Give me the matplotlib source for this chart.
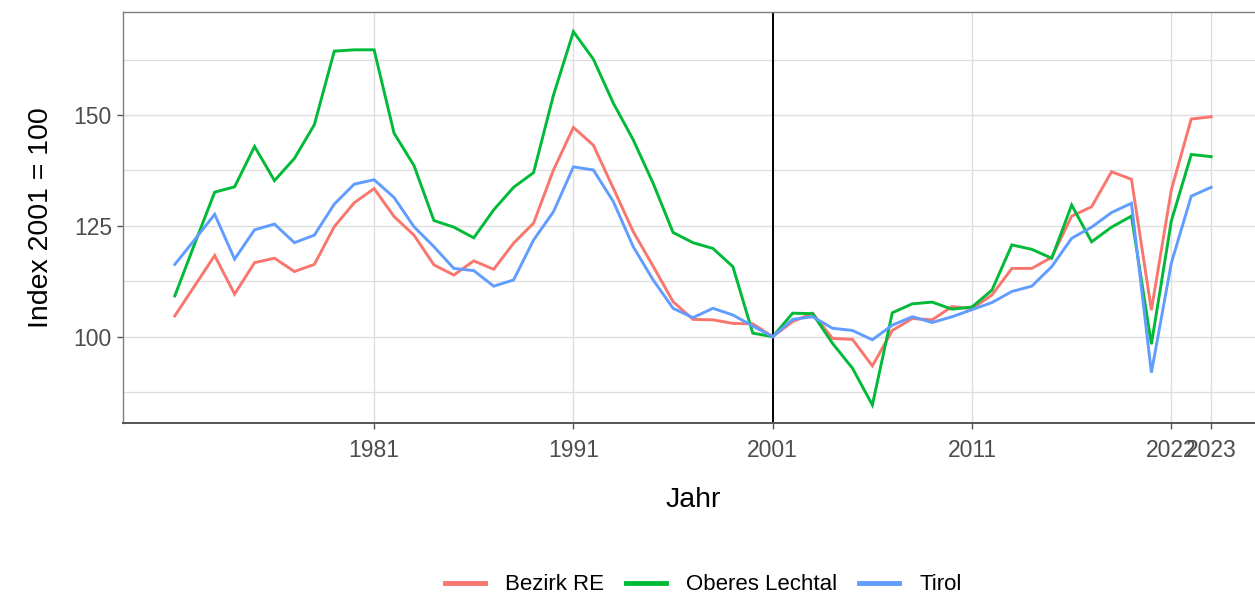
import matplotlib
matplotlib.use("Agg")
import matplotlib.pyplot as plt
from matplotlib.ticker import FixedLocator

years = list(range(1971, 2024))

bezirk_re = [104.7, 111.5, 118.3, 109.6, 116.7, 117.7, 114.7, 116.3, 124.8, 130.2,
             133.4, 127.1, 122.9, 116.2, 113.9, 117.1, 115.2, 121.1, 125.6, 137.6,
             147.2, 143.2, 133.5, 123.7, 115.9, 107.9, 103.9, 103.8, 103.0, 102.9,
             100.0, 103.4, 105.3, 99.6, 99.4, 93.4, 101.4, 104.1, 103.8, 106.8,
             106.3, 109.4, 115.4, 115.4, 117.9, 127.2, 129.3, 137.2, 135.5, 106.0,
             133.1, 149.1, 149.6]

oberes_lechtal = [109.2, 121.0, 132.6, 133.8, 142.9, 135.2, 140.2, 147.8, 164.4, 164.7,
                  164.7, 145.9, 138.6, 126.2, 124.7, 122.3, 128.6, 133.7, 137.0, 154.5,
                  168.8, 162.6, 152.7, 144.4, 134.6, 123.5, 121.2, 119.9, 115.8, 100.8,
                  100.0, 105.3, 105.2, 98.5, 92.9, 84.6, 105.4, 107.4, 107.8, 106.2,
                  106.7, 110.5, 120.7, 119.7, 117.7, 129.7, 121.4, 124.7, 127.2, 98.3,
                  126.1, 141.1, 140.6]

tirol = [116.3, 121.9, 127.6, 117.5, 124.1, 125.4, 121.2, 122.9, 129.9, 134.4,
         135.4, 131.4, 124.8, 120.3, 115.4, 114.9, 111.4, 112.8, 121.8, 128.2,
         138.3, 137.6, 130.5, 120.3, 112.8, 106.4, 104.3, 106.4, 104.9, 102.4,
         100.0, 103.9, 104.5, 101.9, 101.4, 99.3, 102.6, 104.5, 103.2, 104.5,
         106.1, 107.7, 110.2, 111.4, 115.8, 122.2, 124.7, 128.0, 130.1, 91.9,
         116.6, 131.7, 133.7]

series_names = ["Bezirk RE", "Oberes Lechtal", "Tirol"]
series_values = [bezirk_re, oberes_lechtal, tirol]
series_colors = ["#F8766D", "#00BA38", "#619CFF"]

x_tick_pos = [1981, 1991, 2001, 2011, 2021, 2023]
x_tick_labels = ["1981", "1991", "2001", "2011", "2022", "2023"]
y_major = [100, 125, 150]
y_minor = [87.5, 112.5, 137.5, 162.5]
ref_year = 2001

plt.rcParams['font.family'] = ['Liberation Sans', 'DejaVu Sans']

W, H = 1255, 595
fig = plt.figure(figsize=(W / 100, H / 100), dpi=100)
ax_left, ax_right, ax_top, ax_bottom = 123, 1263, 11.7, 422.7
ax = fig.add_axes([ax_left / W, 1 - ax_bottom / H, (ax_right - ax_left) / W, (ax_bottom - ax_top) / H])

ax.set_xlim(1968.4, 2025.6)
ax.set_ylim(80.6, 173.3)

grid_col = "#DEDEDE"
ax.xaxis.set_major_locator(FixedLocator(x_tick_pos))
ax.set_xticklabels(x_tick_labels)
ax.yaxis.set_major_locator(FixedLocator(y_major))
ax.yaxis.set_minor_locator(FixedLocator(y_minor))
ax.grid(True, which="major", color=grid_col, linewidth=1.0, zorder=0)
ax.grid(True, which="minor", axis="y", color=grid_col, linewidth=0.9, zorder=0)
ax.set_axisbelow(True)

ax.axvline(ref_year, color="black", linewidth=1.4, zorder=1)

for name, vals, col in zip(series_names, series_values, series_colors):
    ax.plot(years, vals, color=col, linewidth=2.1, label=name, zorder=3,
            solid_joinstyle="miter")

for side in ["left", "top", "right"]:
    ax.spines[side].set_color("#7F7F7F")
    ax.spines[side].set_linewidth(1.0)
ax.spines["bottom"].set_color("#555555")
ax.spines["bottom"].set_linewidth(1.4)

ax.tick_params(axis="both", which="major", direction="out", length=4, width=1.0,
               color="#555555", labelcolor="#4D4D4D", labelsize=16.5)
ax.tick_params(axis="both", which="minor", length=0)
ax.tick_params(axis="x", pad=8)
ax.tick_params(axis="y", pad=4)

ax.set_xlabel("Jahr", fontsize=20.5, color="black", labelpad=18)
ax.set_ylabel("Index 2001 = 100", fontsize=20.5, color="black", labelpad=14)

handles, labels = ax.get_legend_handles_labels()
leg = fig.legend(handles, labels, loc="center", bbox_to_anchor=(703 / W, 1 - 585 / H),
                 ncol=3, frameon=False, fontsize=16, handlelength=1.8,
                 handletextpad=0.9, columnspacing=1.0)
for line in leg.get_lines():
    line.set_linewidth(3.5)

fig.savefig("out.png", dpi=100)
